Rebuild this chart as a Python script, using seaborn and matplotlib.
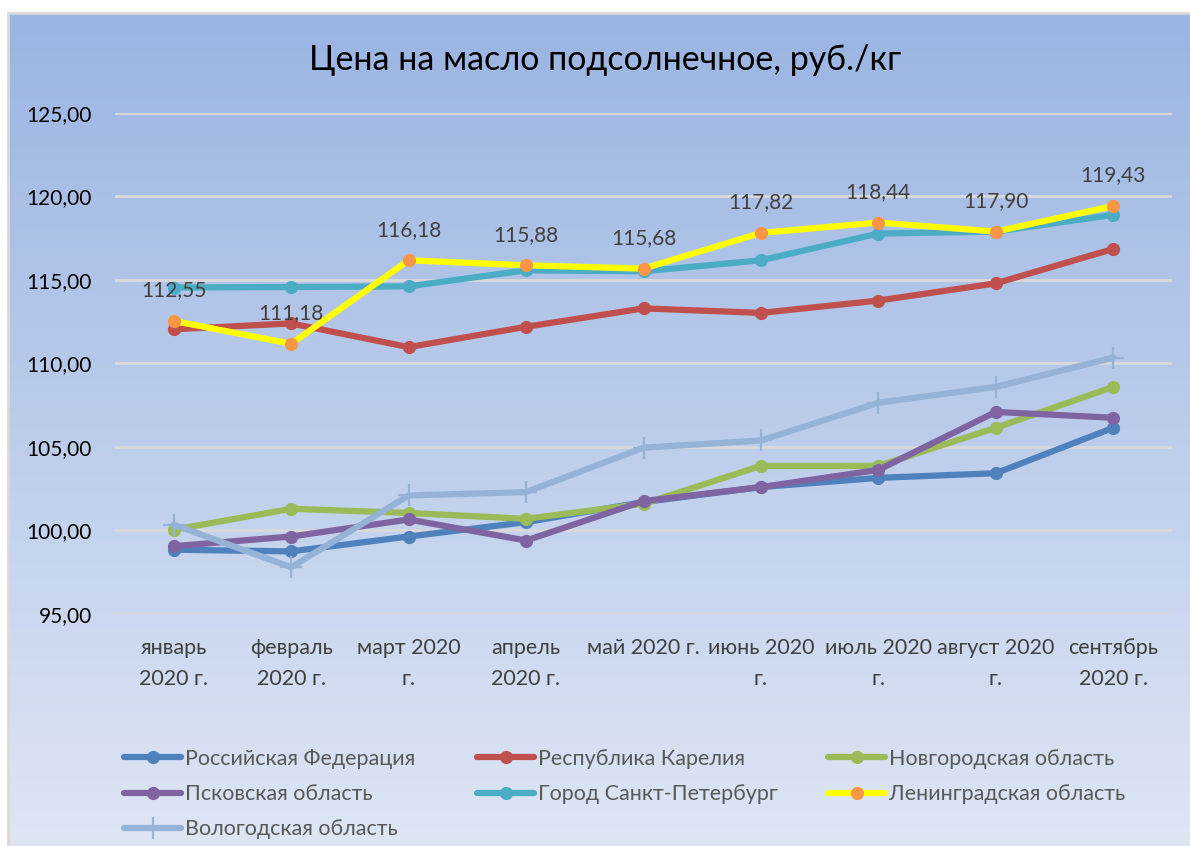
import numpy as np
import pandas as pd
import matplotlib
matplotlib.use("Agg")
import matplotlib.pyplot as plt
from matplotlib.lines import Line2D
from matplotlib.colors import LinearSegmentedColormap
import seaborn as sns

# ---- data -------------------------------------------------------------
months = ["январь\n2020 г.", "февраль\n2020 г.", "март 2020\nг.", "апрель\n2020 г.",
          "май 2020 г.", "июнь 2020\nг.", "июль 2020\nг.", "август 2020\nг.",
          "сентябрь\n2020 г."]

russia = [98.85, 98.75, 99.64, 100.50, 101.70, 102.60, 103.15, 103.43, 106.15]
karelia = [112.05, 112.40, 110.98, 112.20, 113.30, 113.03, 113.77, 114.80, 116.86]
novgorod = [100.05, 101.30, 101.05, 100.70, 101.60, 103.87, 103.87, 106.15, 108.60]
pskov = [99.06, 99.64, 100.66, 99.40, 101.76, 102.60, 103.63, 107.10, 106.75]
spb = [114.55, 114.58, 114.62, 115.58, 115.52, 116.18, 117.78, 117.90, 118.90]
leningrad = [112.55, 111.18, 116.18, 115.88, 115.68, 117.82, 118.44, 117.90, 119.43]
vologda = [100.35, 97.80, 102.10, 102.30, 104.96, 105.39, 107.65, 108.60, 110.35]

series = [
    ("Российская Федерация", russia, dict(color="#4F81BD", marker="o", mfc="#4F81BD")),
    ("Республика Карелия", karelia, dict(color="#C0504D", marker="o", mfc="#C0504D")),
    ("Новгородская область", novgorod, dict(color="#9BBB59", marker="o", mfc="#9BBB59")),
    ("Псковская область", pskov, dict(color="#8064A2", marker="o", mfc="#8064A2")),
    ("Город Санкт-Петербург", spb, dict(color="#4BACC6", marker="o", mfc="#4BACC6")),
    ("Ленинградская область", leningrad, dict(color="#FFFF00", marker="o", mfc="#F79646")),
    ("Вологодская область", vologda, dict(color="#95B3D7", marker="+", mfc="#95B3D7")),
]

yticks = [95, 100, 105, 110, 115, 120, 125]

# ---- figure -----------------------------------------------------------
sns.set_style("white")
plt.rcParams["font.family"] = ["Lato", "DejaVu Sans"]

W, H = 1190, 846
fig = plt.figure(figsize=(W / 100, H / 100), dpi=100)
fig.patch.set_facecolor("white")

# chart area with vertical gradient fill
bg = fig.add_axes([8 / W, 0, 1 - 8 / W, 1 - 13 / H], zorder=-10)
cmap = LinearSegmentedColormap.from_list("bgfill", ["#9AB4E2", "#BCCDEB", "#DEE6F4"])
grad = np.linspace(0, 1, 256).reshape(-1, 1)
bg.imshow(grad, aspect="auto", cmap=cmap, extent=[0, 1, 0, 1], origin="upper")
bg.set_xlim(0, 1)
bg.set_ylim(0, 1)
bg.set_xticks([])
bg.set_yticks([])
for side in ["right", "bottom"]:
    bg.spines[side].set_visible(False)
for side in ["left", "top"]:
    bg.spines[side].set_color("#D9D9D9")
    bg.spines[side].set_linewidth(2)

ax = fig.add_axes([115 / W, (H - 614) / H, (1172 - 115) / W, (614 - 113) / H])
ax.set_facecolor("none")

LW = 4.5
x = np.arange(len(months))
for name, vals, st in series:
    df = pd.DataFrame({"month": x, "price": vals})
    if st["marker"] == "+":
        sns.lineplot(data=df, x="month", y="price", ax=ax, color=st["color"],
                     linewidth=LW, marker="+", markersize=16, markeredgewidth=1.6,
                     markeredgecolor=st["color"], zorder=3)
    else:
        sns.lineplot(data=df, x="month", y="price", ax=ax, color=st["color"],
                     linewidth=LW, marker="o", markersize=9.5,
                     markerfacecolor=st["mfc"], markeredgecolor=st["mfc"],
                     markeredgewidth=0, zorder=3)

# value labels for Ленинградская область
for xi, v in zip(x, leningrad):
    ax.annotate(f"{v:.2f}".replace(".", ","), (xi, v), xytext=(0, 22),
                textcoords="offset points", ha="center", va="center",
                fontsize=15, color="#404040", zorder=5)

ax.set_xlim(-0.5, len(months) - 0.5)
ax.set_ylim(95, 125)
ax.set_yticks(yticks)
ax.set_yticklabels([f"{t:.2f}".replace(".", ",") for t in yticks], fontsize=15, color="#000000")
ax.set_xticks(x)
ax.set_xticklabels(months, fontsize=15.5, color="#404040", linespacing=1.7)
ax.tick_params(axis="x", length=0, pad=17)
ax.tick_params(axis="y", length=0, pad=16.5)
ax.grid(axis="y", color="#D9D9D9", linewidth=2)
ax.set_axisbelow(True)
for s in ax.spines.values():
    s.set_visible(False)
ax.set_xlabel("")
ax.set_ylabel("")

fig.text(605 / W, 1 - 60 / H, "Цена на масло подсолнечное, руб./кг",
         ha="center", va="center", fontsize=24.5, color="#000000")


# legend: three columns laid out row by row
def handle(st):
    if st["marker"] == "+":
        return Line2D([], [], color=st["color"], linewidth=LW, marker="+",
                      markersize=16, markeredgewidth=1.6, markeredgecolor=st["color"])
    return Line2D([], [], color=st["color"], linewidth=LW, marker="o", markersize=9.5,
                  markerfacecolor=st["mfc"], markeredgewidth=0)


columns = [[0, 3, 6], [1, 4], [2, 5]]
col_x = [124, 477, 828]
for cx, idxs in zip(col_x, columns):
    hs = [handle(series[i][2]) for i in idxs]
    ls = [series[i][0] for i in idxs]
    leg = fig.legend(hs, ls, loc="upper left", bbox_to_anchor=(cx / W, 1 - 749 / H),
                     frameon=False, fontsize=15.5, handlelength=2.65, handletextpad=0.2,
                     labelspacing=0.7, borderpad=0, borderaxespad=0)
    for t in leg.get_texts():
        t.set_color("#595959")

fig.savefig("out.png", dpi=100, facecolor=fig.get_facecolor())
